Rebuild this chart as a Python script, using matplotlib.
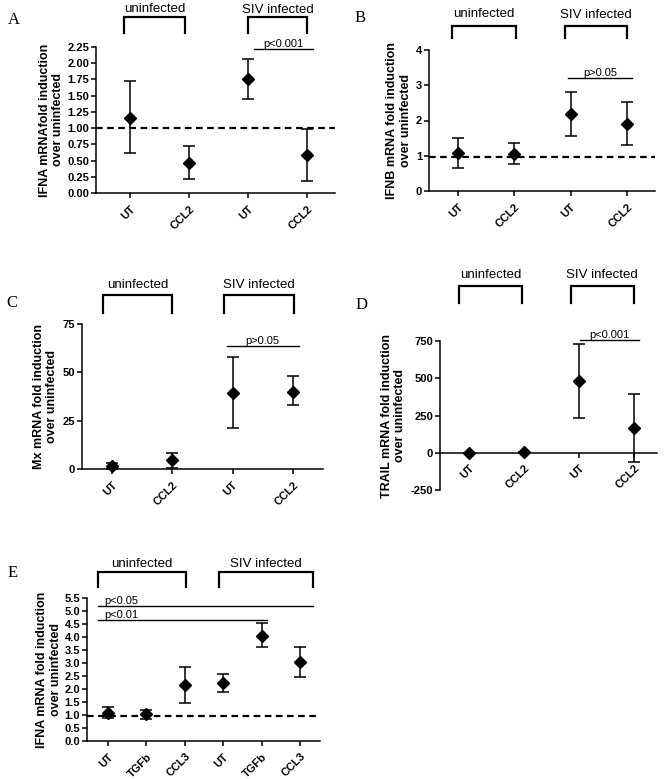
import matplotlib
matplotlib.use("Agg")
import matplotlib.pyplot as plt
import matplotlib.transforms as mtransforms

# --- data ---
cats_4 = ["UT", "CCL2", "UT", "CCL2"]
cats_6 = ["UT", "TGFb", "CCL3", "UT", "TGFb", "CCL3"]

ifna_mean = [1.16, 0.47, 1.76, 0.58]
ifna_lo = [0.62, 0.22, 1.45, 0.19]
ifna_hi = [1.72, 0.72, 2.07, 0.98]

ifnb_mean = [1.08, 1.05, 2.18, 1.90]
ifnb_lo = [0.65, 0.78, 1.55, 1.30]
ifnb_hi = [1.50, 1.35, 2.80, 2.52]

mx_mean = [1.5, 4.5, 39.5, 40.0]
mx_lo = [0.0, 0.5, 21.0, 33.0]
mx_hi = [3.0, 8.5, 58.0, 48.0]

trail_mean = [0, 2, 480, 165]
trail_lo = [0, 0, 235, -60]
trail_hi = [0, 4, 730, 395]

ifna2_mean = [1.08, 1.02, 2.15, 2.22, 4.05, 3.03]
ifna2_lo = [0.88, 0.85, 1.48, 1.88, 3.60, 2.48]
ifna2_hi = [1.30, 1.20, 2.85, 2.57, 4.55, 3.60]

W, H = 664, 779
fig = plt.figure(figsize=(W / 100, H / 100), dpi=100)
plt.rcParams['font.family'] = ['Liberation Sans', 'DejaVu Sans']

LW = 1.1
TICK_FS = 8
YLAB_FS = 9


def fy(py):
    return 1 - py / H


def make_ax(left, right, top, bottom):
    ax = fig.add_axes([left / W, 1 - bottom / H, (right - left) / W, (bottom - top) / H])
    ax.spines['top'].set_visible(False)
    ax.spines['right'].set_visible(False)
    ax.spines['left'].set_linewidth(LW)
    ax.spines['bottom'].set_linewidth(LW)
    ax.tick_params(direction='out', width=LW, length=3.5, labelsize=TICK_FS, pad=1.5)
    return ax


def bold_yticks(ax, ticks, labels=None):
    ax.set_yticks(ticks)
    if labels is None:
        labels = [str(t) for t in ticks]
    ax.set_yticklabels(labels, fontweight='bold', fontsize=TICK_FS)


def draw_points(ax, cats, mean, lo, hi):
    xs = list(range(len(cats)))
    err = [[m - l for m, l in zip(mean, lo)], [h - m for m, h in zip(mean, hi)]]
    ax.errorbar(xs, mean, yerr=err, fmt='D', color='black', ms=6.5, capsize=4.5,
                elinewidth=LW, capthick=LW, clip_on=False, zorder=5)
    ax.set_xticks(xs)
    ax.set_xticklabels(cats, rotation=45, ha='right', rotation_mode='anchor',
                       fontweight='bold', fontsize=TICK_FS)
    ax.tick_params(axis='x', pad=4)


def bracket(ax, x0, x1, ptop, pbot, ptext, label):
    tr = mtransforms.blended_transform_factory(ax.transData, fig.transFigure)
    ax.plot([x0, x0, x1, x1], [fy(pbot), fy(ptop), fy(ptop), fy(pbot)],
            color='black', lw=1.6, transform=tr, clip_on=False, solid_joinstyle='miter')
    ax.text((x0 + x1) / 2, fy(ptext), label, transform=tr, ha='center', va='center',
            fontsize=9.5)


def pline(ax, x0, x1, y, label, ha='center', tx=None):
    ax.plot([x0, x1], [y, y], color='black', lw=1.0, clip_on=False)
    if tx is None:
        tx = (x0 + x1) / 2
    ax.text(tx, y, label, ha=ha, va='bottom', fontsize=8)


def dashed(ax, y):
    ax.axhline(y, color='black', lw=1.6, ls=(0, (3, 2)), zorder=1)


def letter(px, py, s):
    fig.text(px / W, fy(py), s, fontsize=12, family='Liberation Serif', ha='left', va='center')


# ----- A -----
axA = make_ax(96, 335, 47, 193)
draw_points(axA, cats_4, ifna_mean, ifna_lo, ifna_hi)
axA.set_xlim(-0.58, 3.47)
axA.set_ylim(0, 2.25)
bold_yticks(axA, [0, 0.25, 0.5, 0.75, 1.0, 1.25, 1.5, 1.75, 2.0, 2.25],
            ['0.00', '0.25', '0.50', '0.75', '1.00', '1.25', '1.50', '1.75', '2.00', '2.25'])
axA.set_ylabel("IFNA mRNAfold induction\nover uninfected", fontsize=YLAB_FS, fontweight='bold', labelpad=2)
dashed(axA, 1.0)
bracket(axA, -0.1, 0.93, 17, 33, 9, "uninfected")
bracket(axA, 2.0, 3.0, 17, 33, 10, "SIV infected")
pline(axA, 2.1, 3.1, 2.22, "p<0.001")
letter(8, 20, "A")

# ----- B -----
axB = make_ax(429, 655, 50, 191)
draw_points(axB, cats_4, ifnb_mean, ifnb_lo, ifnb_hi)
axB.set_xlim(-0.515, 3.5)
axB.set_ylim(0, 4)
bold_yticks(axB, [0, 1, 2, 3, 4])
axB.set_ylabel("IFNB mRNA fold induction\nover uninfected", fontsize=YLAB_FS, fontweight='bold', labelpad=3)
dashed(axB, 0.97)
bracket(axB, -0.1, 1.03, 26, 38, 14, "uninfected")
bracket(axB, 1.9, 3.0, 26, 38, 15, "SIV infected")
pline(axB, 1.95, 3.1, 3.2, "p>0.05")
letter(355, 18, "B")

# ----- C -----
axC = make_ax(82, 323, 324, 469)
draw_points(axC, cats_4, mx_mean, mx_lo, mx_hi)
axC.set_xlim(-0.5, 3.5)
axC.set_ylim(0, 75)
bold_yticks(axC, [0, 25, 50, 75])
axC.set_ylabel("Mx mRNA fold induction\nover uninfected", fontsize=YLAB_FS, fontweight='bold', labelpad=3)
bracket(axC, -0.15, 1.0, 295, 313, 285, "uninfected")
bracket(axC, 1.85, 3.02, 295, 313, 285, "SIV infected")
pline(axC, 1.9, 3.1, 63.5, "p>0.05")
letter(6, 303, "C")

# ----- D -----
axD = make_ax(440, 657, 341, 490)
axD.spines['bottom'].set_position(('data', 0))
draw_points(axD, cats_4, trail_mean, trail_lo, trail_hi)
axD.set_xlim(-0.53, 3.42)
axD.set_ylim(-250, 750)
bold_yticks(axD, [-250, 0, 250, 500, 750])
axD.set_ylabel("TRAIL mRNA fold induction\nover uninfected", fontsize=YLAB_FS, fontweight='bold', labelpad=3)
bracket(axD, -0.18, 0.97, 286, 303, 275, "uninfected")
bracket(axD, 1.85, 3.0, 286, 303, 275, "SIV infected")
pline(axD, 2.02, 3.1, 760, "p<0.001")
letter(356, 305, "D")

# ----- E -----
axE = make_ax(87, 320, 598, 741)
draw_points(axE, cats_6, ifna2_mean, ifna2_lo, ifna2_hi)
axE.set_xlim(-0.55, 5.52)
axE.set_ylim(0, 5.5)
bold_yticks(axE, [i * 0.5 for i in range(12)], ["%.1f" % (i * 0.5) for i in range(12)])
axE.set_ylabel("IFNA mRNA fold induction\nover uninfected", fontsize=YLAB_FS, fontweight='bold', labelpad=2)
dashed(axE, 0.95)
bracket(axE, -0.26, 2.03, 572, 587, 564, "uninfected")
bracket(axE, 2.88, 5.33, 572, 587, 564, "SIV infected")
pline(axE, -0.26, 5.33, 5.2, "p<0.05", ha='left', tx=-0.1)
pline(axE, -0.26, 4.14, 4.65, "p<0.01", ha='left', tx=-0.1)
letter(8, 573, "E")

fig.savefig("out.png", dpi=100)
